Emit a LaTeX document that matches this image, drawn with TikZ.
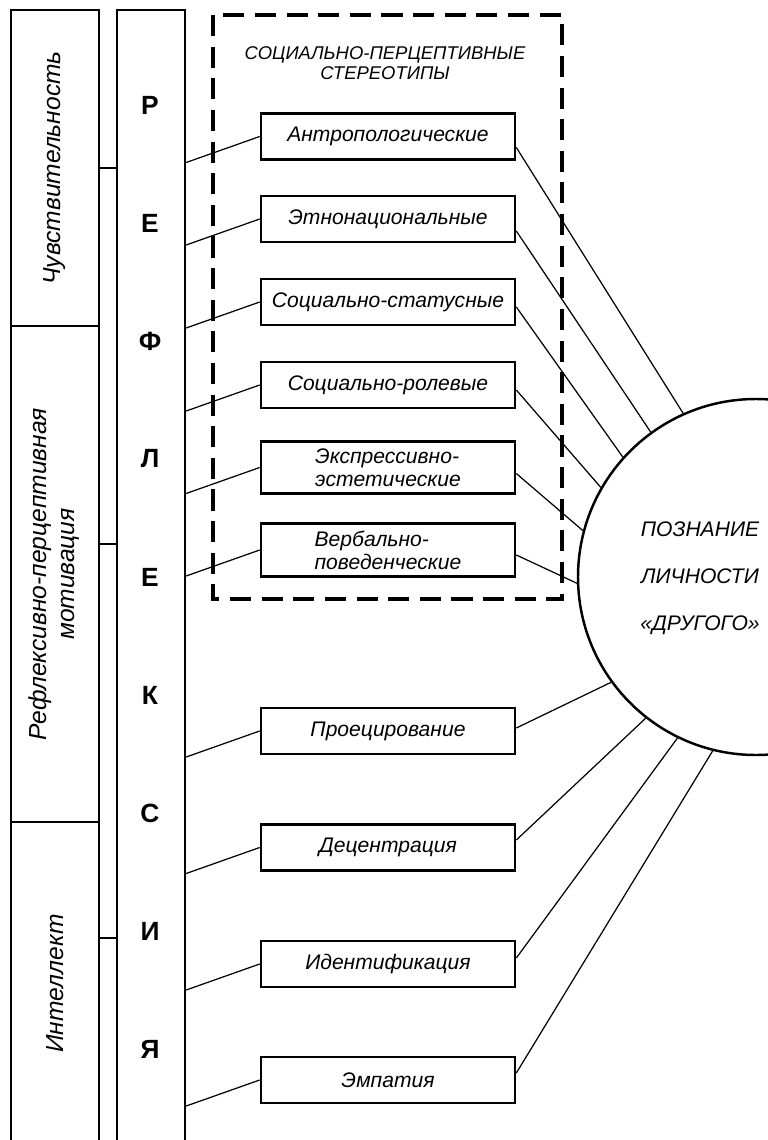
\documentclass[tikz,border=0pt]{standalone}
\usepackage{fontspec}
\setmainfont{Liberation Sans}
\usepackage{tikz}
\tikzstyle{sideblock} = [draw, line width=1.3pt, inner sep=0, font=\itshape\fontsize{14}{16}\selectfont]
\tikzstyle{stereoblock} = [draw, line width=1.5pt, minimum width=5.08cm, minimum height=0.92cm, inner ysep=4pt, align=left, font=\itshape\fontsize{12}{13}\selectfont]
\tikzstyle{letter} = [font=\bfseries\fontsize{15}{16}\selectfont]
\tikzstyle{link} = [line width=0.7pt]

\begin{document}
\begin{tikzpicture}
      \useasboundingbox (0, 0) rectangle (15.36, -22.8);
      \clip (0, 0) rectangle (15.36, -22.8);

      \node[sideblock, minimum width=1.76cm, minimum height=6.32cm] (chuv) at (1.10, -3.36) {\rotatebox{90}{Чувствительность}};
      \node[sideblock, minimum width=1.76cm, minimum height=9.92cm] (motiv) at (1.10, -11.48) {\rotatebox{90}{\begin{tabular}{@{}c@{}}Рефлексивно-перцептивная\\мотивация\end{tabular}}};
      \node[sideblock, minimum width=1.76cm, minimum height=6.46cm] (intel) at (1.10, -19.67) {\rotatebox{90}{Интеллект}};
      \node[sideblock, minimum width=1.36cm, minimum height=22.7cm] (refl) at (3.02, -11.55) {};

      \node[letter] (l1) at (3.0, -2.10) {Р};
      \node[letter] (l2) at (3.0, -4.46) {Е};
      \node[letter] (l3) at (3.0, -6.82) {Ф};
      \node[letter] (l4) at (3.0, -9.18) {Л};
      \node[letter] (l5) at (3.0, -11.54) {Е};
      \node[letter] (l6) at (3.0, -13.90) {К};
      \node[letter] (l7) at (3.0, -16.26) {С};
      \node[letter] (l8) at (3.0, -18.62) {И};
      \node[letter] (l9) at (3.0, -20.98) {Я};

      \draw[line width=2.2pt, dash pattern=on 12pt off 6pt] (4.26, -0.3) rectangle (11.24, -11.98);
      \node[font=\itshape\fontsize{10.5}{11.5}\selectfont, align=center] (title) at (7.7, -1.26) {СОЦИАЛЬНО-ПЕРЦЕПТИВНЫЕ\\СТЕРЕОТИПЫ};

      \node[stereoblock] (antr) at (7.76, -2.73) {Антропологические};
      \node[stereoblock] (etno) at (7.76, -4.38) {Этнонациональные};
      \node[stereoblock] (stat) at (7.76, -6.04) {Социально-статусные};
      \node[stereoblock] (role) at (7.76, -7.70) {Социально-ролевые};
      \node[stereoblock] (expr) at (7.76, -9.35) {Экспрессивно-\\эстетические};
      \node[stereoblock] (verb) at (7.76, -11.00) {Вербально-\\поведенческие};

      \node[stereoblock] (proj) at (7.76, -14.62) {Проецирование};
      \node[stereoblock] (dec) at (7.76, -16.95) {Децентрация};
      \node[stereoblock] (ident) at (7.76, -19.28) {Идентификация};
      \node[stereoblock] (emp) at (7.76, -21.60) {Эмпатия};

      \node[draw, circle, line width=1.4pt, minimum size=7.12cm] (cogn) at (15.12, -11.54) {};
      \node[font=\itshape\fontsize{12}{26.6}\selectfont, align=center] (cogtext) at (14.0, -11.56) {ПОЗНАНИЕ\\ЛИЧНОСТИ\\«ДРУГОГО»};

      \draw[link] (chuv.east) -- (chuv.east -| refl.west);
      \draw[link] ([yshift=0.6cm]motiv.east) -- ([yshift=0.6cm]motiv.east -| refl.west);
      \draw[link] ([yshift=0.91cm]intel.east) -- ([yshift=0.91cm]intel.east -| refl.west);

      \draw[link] (antr.west) -- ([yshift=-0.52cm]antr.west -| refl.east);
      \draw[link] (etno.west) -- ([yshift=-0.52cm]etno.west -| refl.east);
      \draw[link] (stat.west) -- ([yshift=-0.52cm]stat.west -| refl.east);
      \draw[link] (role.west) -- ([yshift=-0.52cm]role.west -| refl.east);
      \draw[link] (expr.west) -- ([yshift=-0.52cm]expr.west -| refl.east);
      \draw[link] (verb.west) -- ([yshift=-0.52cm]verb.west -| refl.east);
      \draw[link] (proj.west) -- ([yshift=-0.52cm]proj.west -| refl.east);
      \draw[link] (dec.west) -- ([yshift=-0.52cm]dec.west -| refl.east);
      \draw[link] (ident.west) -- ([yshift=-0.52cm]ident.west -| refl.east);
      \draw[link] (emp.west) -- ([yshift=-0.52cm]emp.west -| refl.east);

      \draw[link] ([yshift=-0.22cm]antr.east) -- (cogn.114);
      \draw[link] ([yshift=-0.24cm]etno.east) -- (cogn.126);
      \draw[link] ([yshift=-0.10cm]stat.east) -- (cogn.138);
      \draw[link] ([yshift=-0.10cm]role.east) -- (cogn.150);
      \draw[link] ([yshift=-0.12cm]expr.east) -- (cogn.165);
      \draw[link] ([yshift=-0.10cm]verb.east) -- (cogn.182);
      \draw[link] ([yshift=0.06cm]proj.east) -- (cogn.216);
      \draw[link] ([yshift=0.15cm]dec.east) -- (cogn.232);
      \draw[link] ([yshift=0.12cm]ident.east) -- (cogn.244);
      \draw[link] ([yshift=0.14cm]emp.east) -- (cogn.256);
    \end{tikzpicture}
\end{document}
